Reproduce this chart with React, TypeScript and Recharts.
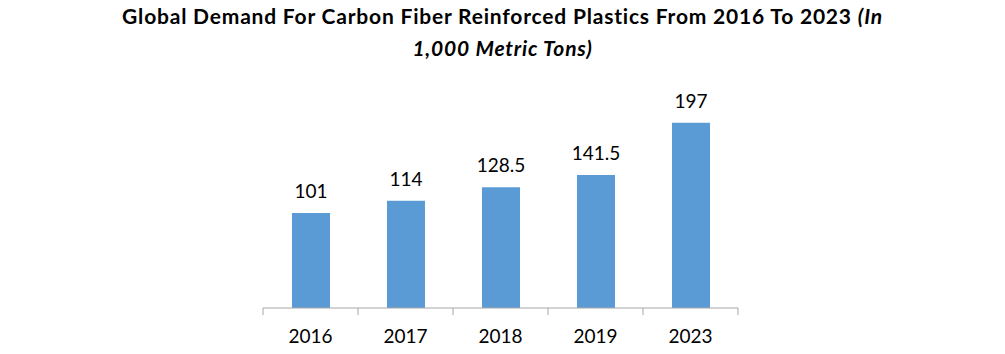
import React from 'react'
import { BarChart, Bar, XAxis, YAxis, LabelList } from 'recharts'

const years = ['2016', '2017', '2018', '2019', '2023']
const demand = [101, 114, 128.5, 141.5, 197]
const yDomain = [0, 250]

const data = years.map((year, i) => ({ year, demand: demand[i] }))

const FONT = 'Lato, "Open Sans", sans-serif'
const BAND = 95

const YearTick = (props: any) => {
  const { x, y, payload, index } = props
  const left = x - BAND / 2
  return (
    <g>
      <line x1={left} y1={y} x2={left} y2={y + 7} stroke="#a6a6a6" />
      {index === years.length - 1 && (
        <line x1={left + BAND} y1={y} x2={left + BAND} y2={y + 7} stroke="#a6a6a6" />
      )}
      <text x={x} y={y + 35} textAnchor="middle" fontSize={19} fill="#000" fontFamily={FONT}>
        {payload.value}
      </text>
    </g>
  )
}

export default function App() {
  return (
    <div style={{ position: 'absolute', left: 0, top: 0, width: 1005, height: 354, background: '#fff' }}>
      <div
        style={{
          position: 'absolute',
          left: 0,
          top: 0,
          width: 1005,
          textAlign: 'center',
          fontFamily: FONT,
          fontWeight: 700,
          fontSize: 21,
          letterSpacing: 0.8,
          lineHeight: '32px',
          color: '#000',
        }}
      >
        Global Demand For Carbon Fiber Reinforced Plastics From 2016 To 2023 <i>(In</i>
        <br />
        <i>1,000 Metric Tons)</i>
      </div>
      <BarChart
        width={1005}
        height={354}
        data={data}
        margin={{ top: 73, right: 267, bottom: 0, left: 263 }}
      >
        <XAxis
          dataKey="year"
          height={46}
          axisLine={{ stroke: '#a6a6a6' }}
          tickLine={false}
          tickSize={0}
          tickMargin={0}
          tick={<YearTick />}
          interval={0}
        />
        <YAxis hide domain={yDomain} width={0} />
        <Bar dataKey="demand" fill="#5b9bd5" barSize={38} isAnimationActive={false}>
          <LabelList
            dataKey="demand"
            position="top"
            offset={15}
            fontSize={19}
            fill="#000"
            fontFamily={FONT}
          />
        </Bar>
      </BarChart>
    </div>
  )
}
